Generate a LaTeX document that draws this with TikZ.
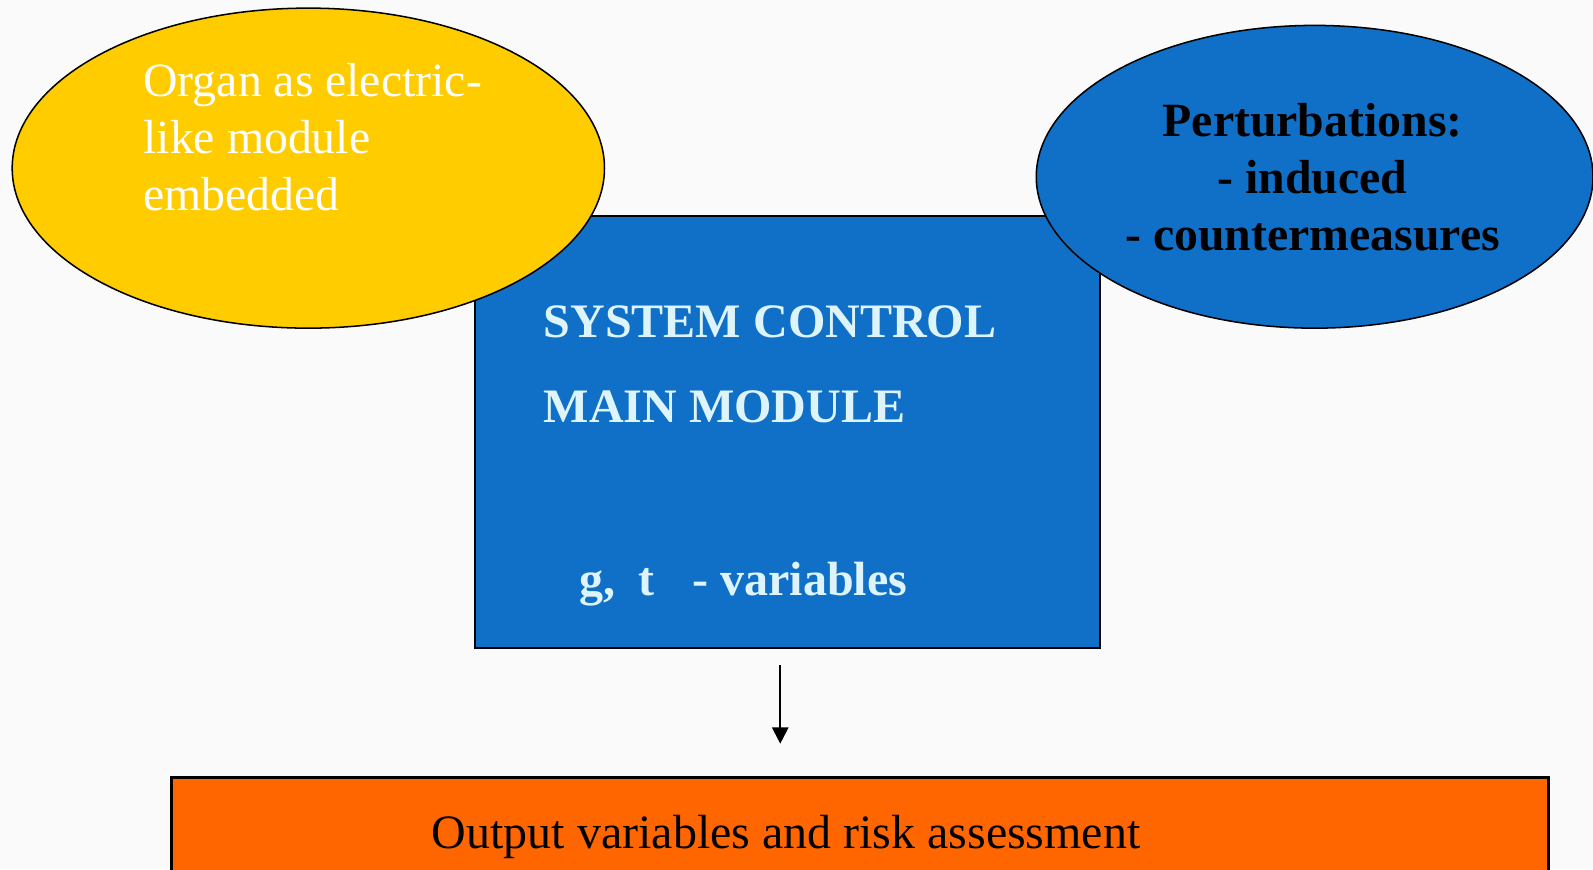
\documentclass[tikz,border=0pt]{standalone}
\usepackage{fontspec}
\setmainfont{Liberation Serif}
\usetikzlibrary{arrows.meta,shapes.geometric}
\definecolor{bgc}{HTML}{FAFAFA}
\definecolor{yel}{HTML}{FFCC00}
\definecolor{blu}{HTML}{106FC7}
\definecolor{org}{HTML}{FF6600}
\definecolor{lcy}{HTML}{DDF4FA}
\tikzset{
  blob/.style={ellipse, draw=black, line width=1.5pt, inner sep=0pt},
  panel/.style={draw=black, line width=2pt, inner sep=0pt},
  wtxt/.style={text=white, font=\fontsize{47}{56}\selectfont, align=left, inner sep=0pt},
  btxt/.style={text=black, font=\fontsize{47}{56}\selectfont\bfseries, align=center, inner sep=0pt},
  ctxt/.style={text=lcy, font=\fontsize{47.3}{56}\selectfont\bfseries, inner sep=0pt, anchor=base west},
  otxt/.style={text=black, font=\fontsize{47.2}{56}\selectfont, inner sep=0pt, anchor=base west},
}
\begin{document}
\begin{tikzpicture}[x=1pt,y=-1pt]
\path[fill=bgc] (0,0) rectangle (1568,855.4);
\useasboundingbox (0,0) rectangle (1568,855.4);
\clip (0,0) rectangle (1568,855.4);
% main module rectangle
\node[panel, fill=blu, minimum width=615pt, minimum height=425pt] (main) at (775.5,425.5) {};
\node[ctxt] (t1) at (535,332) {SYSTEM CONTROL};
\node[ctxt] (t2) at (535,416) {MAIN MODULE};
\node[ctxt] (t3) at (570,586) {g,\hspace{23pt}t\hspace{37pt}- variables};
% ellipses
\node[blob, fill=yel, minimum width=583pt, minimum height=315pt] (organ) at (303.5,165.5) {};
\node[wtxt, anchor=north west] (organt) at (141,62) {Organ as electric-\\like module\\embedded};
\node[blob, fill=blu, minimum width=548pt, minimum height=298pt] (pert) at (1294,174) {};
\node[btxt] (pertt) at (1292,174.5) {Perturbations:\\- induced\\- countermeasures};
% output box
\node[draw=black, line width=3pt, fill=org, minimum width=1355pt, minimum height=140pt, inner sep=0pt] (out) at (846.5,835) {};
\node[otxt] (outt) at (425,835) {Output variables and risk assessment};
% arrow
\coordinate (a1) at (768,655);
\coordinate (a2) at (768,732);
\draw[line width=2pt, -{Triangle[width=16pt,length=16pt]}] (a1) -- (a2);
\end{tikzpicture}
\end{document}
